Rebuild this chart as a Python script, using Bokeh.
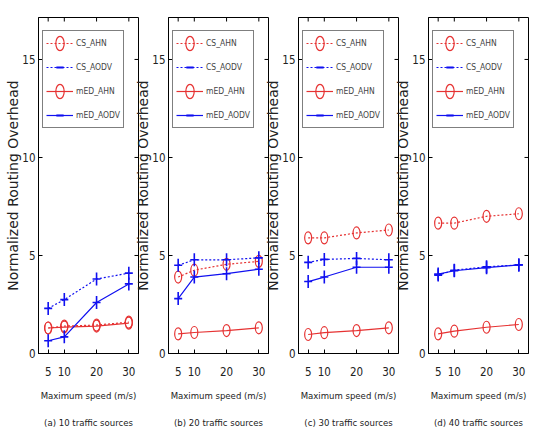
import math
from bokeh.plotting import figure
from bokeh.layouts import row
from bokeh.models import (Range1d, FixedTicker, Legend, LegendItem, Title, ColumnDataSource)
from bokeh.embed import file_html
from bokeh.resources import INLINE

# ---------------- data ----------------
speeds = [5, 10, 20, 30]
y_ticks = [0, 5, 10, 15]
series_names = ["CS_AHN", "CS_AODV", "mED_AHN", "mED_AODV"]
panel_titles = ["(a) 10 traffic sources", "(b) 20 traffic sources",
                "(c) 30 traffic sources", "(d) 40 traffic sources"]
x_label = "Maximum speed (m/s)"
y_label = "Normalized Routing Overhead"

cs_ahn = [[1.3, 1.4, 1.45, 1.6],
          [3.9, 4.25, 4.55, 4.7],
          [5.9, 5.9, 6.15, 6.3],
          [6.65, 6.65, 7.0, 7.13]]
cs_aodv = [[2.3, 2.75, 3.8, 4.1],
           [4.5, 4.78, 4.78, 4.88],
           [4.65, 4.8, 4.85, 4.78],
           [4.0, 4.25, 4.42, 4.52]]
med_ahn = [[1.3, 1.35, 1.4, 1.55],
           [1.0, 1.07, 1.17, 1.31],
           [0.97, 1.06, 1.17, 1.31],
           [1.0, 1.14, 1.34, 1.48]]
med_aodv = [[0.65, 0.85, 2.6, 3.55],
            [2.8, 3.9, 4.07, 4.3],
            [3.67, 3.9, 4.4, 4.4],
            [4.05, 4.22, 4.38, 4.52]]

RED = "#e63232"
BLUE = "#1010f0"
NARROW = "DejaVu Sans Condensed, Liberation Sans, sans-serif"
TXT = "#222222"

X0, X1 = 2, 33
Y0, Y1 = 0, 17.14
FRAME_W = 100
FRAME_H = 336
LEFT = 40
RIGHT = 3
HEIGHT = 434


def add_series(p, ys, color, dash, kind):
    src = ColumnDataSource(dict(x=speeds, y=ys))
    r_line = p.line("x", "y", source=src, line_color=color, line_width=1.2, line_dash=dash)
    rs = [r_line]
    if kind == "circle":
        rs.append(p.ellipse("x", "y", width=7, height=12, width_units="screen",
                            height_units="screen", source=src, line_color=color,
                            line_width=1.2, fill_alpha=0))
    else:
        rs.append(p.scatter("x", "y", marker="dash", size=13, angle=math.pi / 2,
                            source=src, line_color=color, line_width=1.6))
        rs.append(p.scatter("x", "y", marker="dash", size=8, source=src,
                            line_color=color, line_width=1.6))
    return rs


def make_panel(i):
    shift = -2 if i == 0 else -(10 + RIGHT)
    p = figure(width=LEFT + FRAME_W + RIGHT, height=HEIGHT, x_range=Range1d(X0, X1),
               y_range=Range1d(Y0, Y1),
               output_backend="svg", toolbar_location=None,
               min_border_left=LEFT, min_border_right=RIGHT, min_border_top=17,
               min_border_bottom=HEIGHT - 17 - FRAME_H,
               outline_line_color="black", background_fill_color="white",
               border_fill_alpha=0, margin=(0, 0, 0, shift))
    p.grid.visible = False

    p.xaxis.ticker = FixedTicker(ticks=speeds)
    p.yaxis.ticker = FixedTicker(ticks=y_ticks)
    for ax in list(p.xaxis) + list(p.yaxis):
        ax.major_tick_in = 4
        ax.major_tick_out = 0
        ax.minor_tick_in = 0
        ax.minor_tick_out = 0
        ax.axis_line_color = "black"
        ax.major_tick_line_color = "black"
        ax.major_label_text_font = NARROW
        ax.major_label_text_font_size = "11.5px"
        ax.major_label_text_color = TXT
    p.xaxis.major_label_standoff = 13
    p.yaxis.major_label_standoff = 3

    # inward ticks on the top and right edges of the box
    ppx = FRAME_W / (X1 - X0)
    ppy = FRAME_H / (Y1 - Y0)
    p.segment(x0=speeds, x1=speeds, y0=[Y1] * len(speeds), y1=[Y1 - 4 / ppy] * len(speeds),
              line_color="black", line_width=1)
    p.segment(x0=[X1] * len(y_ticks), x1=[X1 - 4 / ppx] * len(y_ticks), y0=y_ticks, y1=y_ticks,
              line_color="black", line_width=1)

    r1 = add_series(p, cs_ahn[i], RED, "2 2", "circle")
    r2 = add_series(p, cs_aodv[i], BLUE, "2 2", "plus")
    r3 = add_series(p, med_ahn[i], RED, "solid", "circle")
    r4 = add_series(p, med_aodv[i], BLUE, "solid", "plus")

    items = [LegendItem(label=n, renderers=r) for n, r in zip(series_names, [r1, r2, r3, r4])]
    leg = Legend(items=items, location=(4, FRAME_H - 13 - 98), padding=3, spacing=6, margin=0,
                 glyph_width=27, glyph_height=18, label_height=18, label_standoff=3,
                 label_text_font=NARROW, label_text_font_size="8.5px",
                 border_line_color="black", border_line_width=1,
                 background_fill_color="white", background_fill_alpha=1)
    p.add_layout(leg, "center")

    p.add_layout(Title(text=x_label, align="center", text_font=NARROW, text_font_size="9.5px",
                       text_font_style="normal", text_color=TXT, standoff=19), "below")
    p.add_layout(Title(text=panel_titles[i], align="center", text_font=NARROW,
                       text_font_size="9.5px", text_font_style="normal", text_color=TXT,
                       standoff=8), "below")
    p.add_layout(Title(text=y_label, align="center", text_font="DejaVu Sans",
                       text_font_size="14px", text_font_style="normal", text_color=TXT,
                       standoff=-2), "left")
    return p


panels = [make_panel(i) for i in range(4)]
layout = row(*panels, spacing=0)
open("out.html", "w").write(file_html(layout, INLINE))
